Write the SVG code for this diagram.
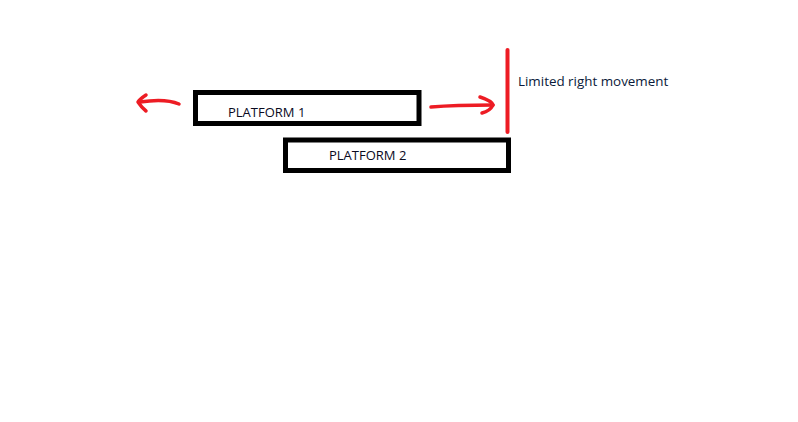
<svg xmlns="http://www.w3.org/2000/svg" width="798" height="422" viewBox="0 0 798 422">
<style>
.plat{fill:none;stroke:#000;stroke-width:5}
.lbl{font-family:"Open Sans","Liberation Sans",sans-serif;font-size:13px;fill:#0a0a1e}
.red{fill:none;stroke:#ed1c24;stroke-width:3.5;stroke-linecap:round;stroke-linejoin:round}
</style>
<rect width="798" height="422" fill="#fff"/>
<g id="platform1">
<rect class="plat" x="195.5" y="92.5" width="223.5" height="31"/>
<text class="lbl" x="228" y="117">PLATFORM 1</text>
</g>
<g id="platform2">
<rect class="plat" x="285.5" y="140" width="223" height="30.5"/>
<text class="lbl" x="329" y="160">PLATFORM 2</text>
</g>
<g id="limit">
<line x1="507.5" y1="50" x2="507.5" y2="132" stroke="#ed1c24" stroke-width="4" stroke-linecap="round"/>
<text class="lbl" x="518" y="86" style="fill:#0a1a3a;font-size:13.4px">Limited right movement</text>
</g>
<g id="connectors">
<path class="red" d="M431 107 Q455 105 493 105"/>
<path class="red" d="M480 97 Q492 101 493 105 Q490 111 482 113"/>
<path class="red" d="M179 104 Q165 98 140 102"/>
<path class="red" d="M146 95 Q140 99 138 102 Q142 108 146 111"/>
</g>
</svg>
